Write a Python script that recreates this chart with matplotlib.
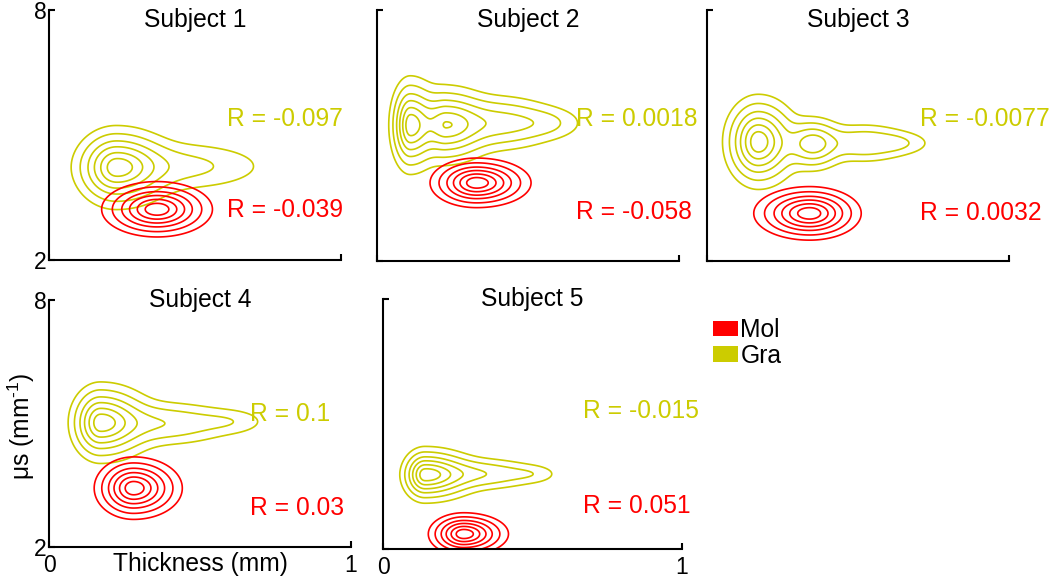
import numpy as np
import matplotlib
matplotlib.use("Agg")
import matplotlib.pyplot as plt
from matplotlib.patches import Patch

plt.rcParams["font.family"] = ["Liberation Sans", "DejaVu Sans"]
plt.rcParams["mathtext.fontset"] = "custom"
plt.rcParams["mathtext.rm"] = "Liberation Sans"
plt.rcParams["mathtext.it"] = "Liberation Sans:italic"

subjects = ["Subject 1", "Subject 2", "Subject 3", "Subject 4", "Subject 5"]
r_gra = [-0.097, 0.0018, -0.0077, 0.1, -0.015]
r_mol = [-0.039, -0.058, 0.0032, 0.03, 0.051]

# density blobs: (thickness centre, mus centre, spread left, spread right, mus spread, weight)
gra_s1 = [(0.23, 4.22, 0.064, 0.09, 0.43, 1.0), (0.45, 4.25, 0.15, 0.16, 0.32, 0.22)]
gra_s2 = [(0.11, 5.25, 0.030, 0.045, 0.50, 1.0), (0.23, 5.25, 0.045, 0.07, 0.42, 0.8),
          (0.40, 5.30, 0.10, 0.10, 0.33, 0.40), (0.56, 5.30, 0.08, 0.07, 0.22, 0.15)]
gra_s3 = [(0.17, 4.85, 0.05, 0.06, 0.48, 1.0), (0.35, 4.80, 0.05, 0.05, 0.30, 0.6),
          (0.52, 4.82, 0.08, 0.08, 0.24, 0.30), (0.64, 4.82, 0.05, 0.06, 0.16, 0.12)]
gra_s4 = [(0.17, 5.02, 0.045, 0.08, 0.42, 1.0), (0.38, 5.00, 0.10, 0.12, 0.28, 0.30),
          (0.60, 5.05, 0.08, 0.07, 0.18, 0.12)]
gra_s5 = [(0.14, 3.78, 0.035, 0.08, 0.29, 1.0), (0.33, 3.80, 0.10, 0.10, 0.20, 0.30),
          (0.50, 3.80, 0.06, 0.05, 0.13, 0.10)]

mol_s1 = [(0.37, 3.22, 0.08, 0.08, 0.28, 1.0)]
mol_s2 = [(0.33, 3.87, 0.065, 0.076, 0.25, 1.0)]
mol_s3 = [(0.34, 3.14, 0.078, 0.072, 0.27, 1.0)]
mol_s4 = [(0.28, 3.43, 0.055, 0.068, 0.32, 1.0)]
mol_s5 = [(0.27, 2.36, 0.05, 0.063, 0.215, 1.0)]

gra_parts = [gra_s1, gra_s2, gra_s3, gra_s4, gra_s5]
mol_parts = [mol_s1, mol_s2, mol_s3, mol_s4, mol_s5]
levels = [0.06, 0.16, 0.32, 0.5, 0.7, 0.88]

RED = "#FF0000"
YEL = "#CCCC00"

# layout (figure fractions) and label placement
boxes = [(0.0467, 0.553, 0.278, 0.430), (0.359, 0.5515, 0.2876, 0.431),
         (0.6733, 0.5515, 0.2876, 0.431), (0.0467, 0.0601, 0.2876, 0.4244),
         (0.3648, 0.0567, 0.2848, 0.4296)]
title_y = [0.932, 0.932, 0.932, 0.97, 0.97]
r_x = [0.61, 0.66, 0.705, 0.665, 0.67]
r_gy = [0.565, 0.565, 0.565, 0.54, 0.55]
r_my = [0.20, 0.195, 0.19, 0.16, 0.17]


def density(parts, X, Y):
    Z = np.zeros_like(X)
    for cx, cy, sxl, sxr, sy, w in parts:
        sx = np.where(X < cx, sxl, sxr)
        Z += w * np.exp(-0.5 * ((X - cx) / sx) ** 2 - 0.5 * ((Y - cy) / sy) ** 2)
    return Z / Z.max()


xs = np.linspace(0, 1, 400)
ys = np.linspace(2, 8, 400)
X, Y = np.meshgrid(xs, ys)

fig = plt.figure(figsize=(10.5, 5.82), dpi=100)
fs = 17.7

for i, name in enumerate(subjects):
    ax = fig.add_axes(boxes[i])
    ax.contour(X, Y, density(gra_parts[i], X, Y), levels=levels, colors=YEL, linewidths=1.2)
    ax.contour(X, Y, density(mol_parts[i], X, Y), levels=levels, colors=RED, linewidths=1.2)
    ax.set_xlim(0, 1)
    ax.set_ylim(2, 8)
    ax.set_xticks([0, 1])
    ax.set_yticks([2, 8])
    for s in ["top", "right"]:
        ax.spines[s].set_visible(False)
    for s in ["left", "bottom"]:
        ax.spines[s].set_linewidth(1.5)
    ax.tick_params(direction="in", length=4, width=1.5, labelsize=16.5, pad=2)
    ax.tick_params(axis="x", pad=5)
    if i not in (0, 3):
        ax.set_yticklabels([])
    if i not in (3, 4):
        ax.set_xticklabels([])
    ax.set_title(name, fontsize=fs, y=title_y[i], pad=0)
    ax.text(r_x[i], r_gy[i], f"R = {r_gra[i]:g}", color=YEL, fontsize=fs,
            transform=ax.transAxes, ha="left", va="center")
    ax.text(r_x[i], r_my[i], f"R = {r_mol[i]:g}", color=RED, fontsize=fs,
            transform=ax.transAxes, ha="left", va="center")
    if i == 3:
        ax.set_xlabel("Thickness (mm)", fontsize=fs)
        ax.xaxis.set_label_coords(0.5, -0.02)
        ax.xaxis.label.set_va("top")
        ax.set_ylabel(r"μs (mm$^{\text{-1}}$)", fontsize=fs)
        ax.yaxis.set_label_coords(-0.04, 0.49)

handles = [Patch(facecolor=RED, edgecolor="none", label="Mol"),
           Patch(facecolor=YEL, edgecolor="none", label="Gra")]
fig.legend(handles=handles, loc="upper left", bbox_to_anchor=(0.670, 0.470),
           frameon=False, fontsize=fs, handlelength=1.0, handleheight=0.6,
           handletextpad=0.1, labelspacing=0.05, borderaxespad=0)

fig.savefig("out.png", dpi=100)
